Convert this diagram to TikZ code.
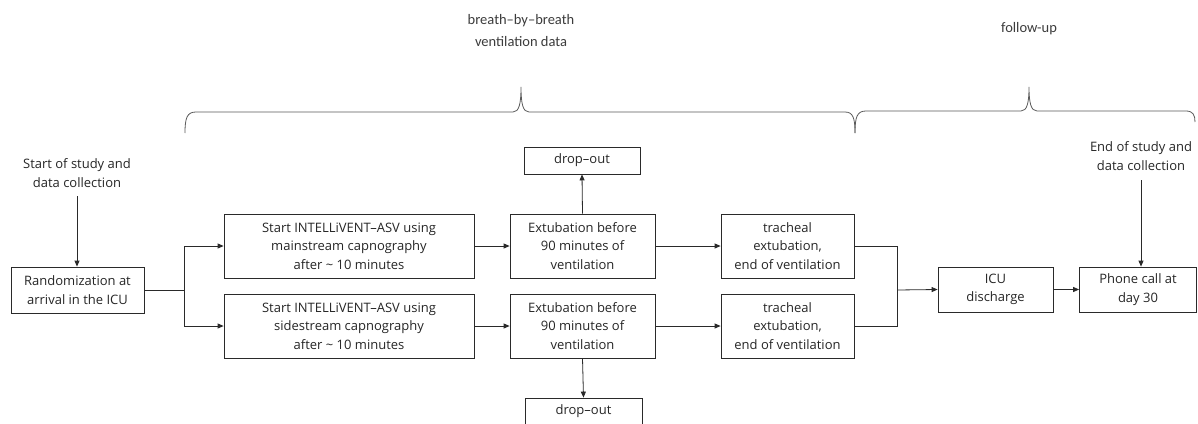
\documentclass[tikz,border=0pt]{standalone}
\usepackage{fontspec}
\setmainfont{Open Sans}
\newfontfamily\narrowfont{Carlito}
\usetikzlibrary{arrows.meta}
\definecolor{ln}{HTML}{2A2A2A}
\definecolor{br}{HTML}{5A5A5A}
\definecolor{tx}{HTML}{262626}
\begin{document}
\begin{tikzpicture}[x=1pt,y=-1pt,
  font=\fontsize{13}{18.5}\selectfont, text=tx,
  box/.style={draw=ln, line width=0.8pt, align=center, inner sep=0pt},
  lbl/.style={align=center, inner sep=0pt},
  top/.style={align=center, inner sep=0pt, font=\narrowfont\fontsize{14.5}{22}\selectfont, text=tx!90},
  arr/.style={draw=ln, line width=0.8pt, -{Triangle[length=6pt,width=5pt]}},
  con/.style={draw=ln, line width=0.8pt},
  brace/.style={draw=br, line width=0.8pt}]
\useasboundingbox (0,0) rectangle (1198,423);
\fill[white] (0,0) rectangle (1198,423);

% top labels
\node[top] (bbb) at (521,31) {breath–by–breath\\ventilation data};
\node[top] (fu) at (1029,29) {follow-up};

% braces
\draw[brace] (185,133) .. controls (185,118) and (187,112) .. (196,112) -- (513,112)
  .. controls (519,112) and (521,104) .. (521,87)
  .. controls (521,104) and (523,112) .. (529,112) -- (845,112)
  .. controls (853,112) and (855,118) .. (855,133);
\draw[brace] (855,133) .. controls (855,117) and (857,111) .. (866,111) -- (1021,111)
  .. controls (1027,111) and (1029,103) .. (1029,87)
  .. controls (1029,103) and (1031,111) .. (1037,111) -- (1186,111)
  .. controls (1193,111) and (1195,115) .. (1195,122);

% nodes
\node[lbl] (start) at (77,173) {Start of study and\\data collection};
\node[box, minimum width=133pt, minimum height=46pt] (rand) at (77.5,290) {Randomization at\\arrival in the ICU};
\node[box, minimum width=250pt, minimum height=64pt] (a1) at (349,246) {Start INTELLiVENT–ASV using\\mainstream capnography\\after \textasciitilde\ 10 minutes};
\node[box, minimum width=250pt, minimum height=64pt] (a2) at (349,326) {Start INTELLiVENT–ASV using\\sidestream capnography\\after \textasciitilde\ 10 minutes};
\node[box, minimum width=145pt, minimum height=64pt] (e1) at (582.5,246) {Extubation before\\90 minutes of\\ventilation};
\node[box, minimum width=145pt, minimum height=64pt] (e2) at (582.5,326) {Extubation before\\90 minutes of\\ventilation};
\node[box, minimum width=116pt, minimum height=27pt] (d1) at (582,160.5) {drop–out};
\node[box, minimum width=117pt, minimum height=27pt] (d2) at (583.5,411.5) {drop–out};
\node[box, minimum width=133pt, minimum height=64pt] (t1) at (787.5,246) {tracheal\\extubation,\\end of ventilation};
\node[box, minimum width=133pt, minimum height=64pt] (t2) at (787.5,326) {tracheal\\extubation,\\end of ventilation};
\node[box, minimum width=115pt, minimum height=45pt] (icu) at (995.5,289.5) {ICU\\discharge};
\node[box, minimum width=117pt, minimum height=45pt] (phone) at (1138,289.5) {Phone call at\\day 30};
\node[lbl] (end) at (1141,156) {End of study and\\data collection};

% connectors
\coordinate (s0) at (77,196);
\draw[arr] (s0) -- (rand.north -| s0);
\coordinate (bx) at (184,290);
\draw[con] (rand.east) -- (bx);
\draw[arr] (bx) |- (a1.west);
\draw[arr] (bx) |- (a2.west);
\draw[arr] (a1.east) -- (e1.west);
\draw[arr] (a2.east) -- (e2.west);
\draw[arr] (e1.north) -- (d1.south);
\draw[arr] (e2.south) -- (d2.north);
\draw[arr] (e1.east) -- (t1.west);
\draw[arr] (e2.east) -- (t2.west);
\coordinate (mx) at (897,290);
\draw[con] (t1.east) -| (mx);
\draw[con] (t2.east) -| (mx);
\draw[arr] (mx) -- (icu.west);
\draw[arr] (icu.east) -- (phone.west);
\coordinate (e0) at (1141,180);
\draw[arr] (e0) -- (phone.north -| e0);
\end{tikzpicture}
\end{document}
